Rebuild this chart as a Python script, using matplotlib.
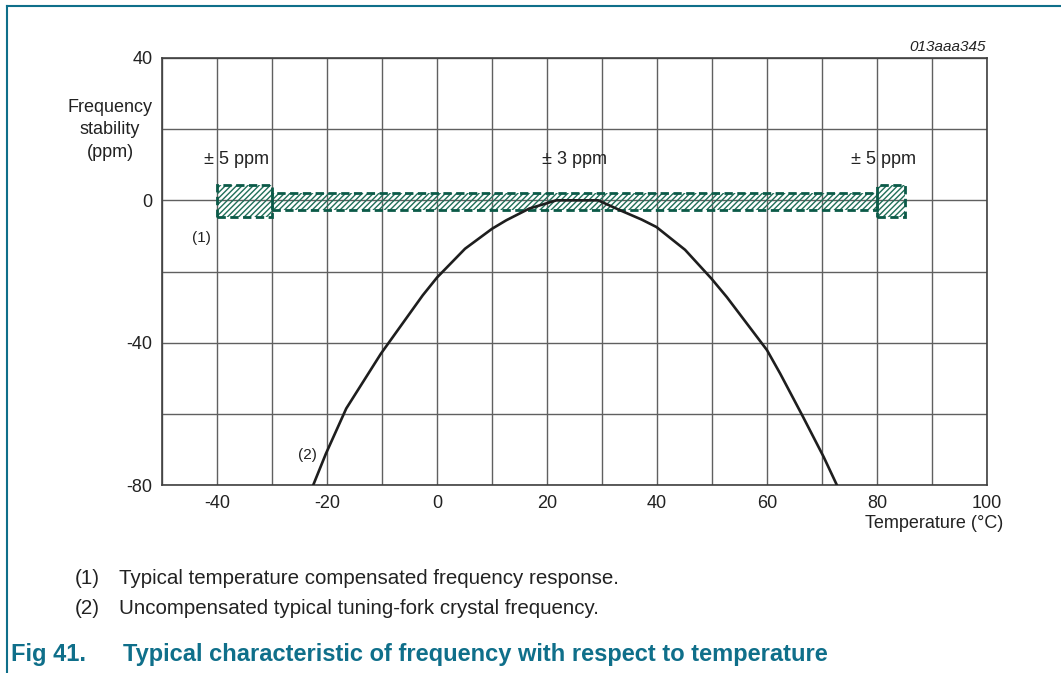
import matplotlib.pyplot as plt
from matplotlib.patches import Rectangle
from matplotlib.lines import Line2D

plt.rcParams['font.family'] = ['Liberation Sans', 'DejaVu Sans']
plt.rcParams['hatch.linewidth'] = 1.0
plt.rcParams['axes.unicode_minus'] = False

# --- Datos ------------------------------------------------------------------
temp = [-22.5, -20.2, -16.5, -10.2, -2.6, 0, 5.1, 10, 12.6, 16.8, 21.7,
        29.3, 33.3, 37.2, 39.9, 45.1, 49.9, 52.7, 60, 62.4, 66.4, 70.3, 72.7]
ppm = [-80, -71.2, -58.5, -43.1, -26.7, -21.7, -13.6, -8.0, -5.6, -2.3, 0,
       0, -2.8, -5.4, -7.5, -13.9, -22, -27.2, -42.1, -48.7, -60.4, -72.1, -80]

# bandas de tolerancia: (t_ini, t_fin, ppm_min, ppm_max)
band_left = (-40, -30, -4.8, 4.2)
band_mid = (-30, 80, -2.8, 2.2)
band_right = (80, 85, -4.8, 4.2)
band_labels = ['± 5 ppm', '± 3 ppm', '± 5 ppm']
band_label_x = [-36.5, 25, 81.2]

xticks = [-40, -20, 0, 20, 40, 60, 80, 100]
yticks = [-80, -40, 0, 40]

W, H = 1061, 673
teal = '#0f6f8a'
green_edge = '#0b5a48'
green_hatch = '#1f6e58'
txt = '#222222'

fig = plt.figure(figsize=(W / 100, H / 100), dpi=100)
ax = fig.add_axes([162 / W, 1 - 485 / H, (987 - 162) / W, (485 - 58) / H])

ax.set_xlim(-50, 100)
ax.set_ylim(-80, 40)
ax.set_xticks(range(-50, 101, 10), minor=True)
ax.set_yticks(range(-80, 41, 20), minor=True)
ax.set_xticks(xticks)
ax.set_yticks(yticks)
ax.tick_params(which='both', length=0, labelsize=13, colors=txt, pad=7)
ax.grid(True, which='both', color='#606060', lw=1.0)
ax.set_axisbelow(True)
for s in ax.spines.values():
    s.set_color('#404040')
    s.set_linewidth(1.2)

# bandas rayadas
for (x0, x1, y0, y1) in [band_left, band_mid, band_right]:
    ax.add_patch(Rectangle((x0, y0), x1 - x0, y1 - y0, facecolor='none',
                           edgecolor=green_hatch, hatch='//////', lw=0, zorder=2))
    ax.add_patch(Rectangle((x0, y0), x1 - x0, y1 - y0, facecolor='none',
                           edgecolor=green_edge, lw=2.0,
                           linestyle=(0, (3.0, 1.6)), zorder=3))

for lbl, xl in zip(band_labels, band_label_x):
    ax.text(xl, 11.5, lbl, ha='center', va='center', fontsize=13, color=txt)

ax.plot(temp, ppm, color='#1e1e1e', lw=1.9, zorder=4)

ax.text(-41.2, -10.5, '(1)', ha='right', va='center', fontsize=11, color=txt)
ax.text(-21.8, -71.6, '(2)', ha='right', va='center', fontsize=11, color=txt)

# --- Textos de la figura -----------------------------------------------------
def ft(x, y, s, **kw):
    fig.text(x / W, 1 - y / H, s, **kw)

ft(986, 47, '013aaa345', ha='right', va='center', fontsize=11,
   style='italic', color=txt)
ft(110, 130, 'Frequency\nstability\n(ppm)', ha='center', va='center',
   fontsize=13, color=txt, linespacing=1.45)
ft(1003, 523, 'Temperature (°C)', ha='right', va='center', fontsize=13, color=txt)

ft(75, 578, '(1)', ha='left', va='center', fontsize=14.8, color=txt)
ft(119, 578, 'Typical temperature compensated frequency response.',
   ha='left', va='center', fontsize=14.8, color=txt)
ft(75, 608, '(2)', ha='left', va='center', fontsize=14.8, color=txt)
ft(119, 608, 'Uncompensated typical tuning-fork crystal frequency.',
   ha='left', va='center', fontsize=14.8, color=txt)
ft(11, 655, 'Fig 41.', ha='left', va='center', fontsize=17,
   fontweight='bold', color=teal)
ft(123, 655, 'Typical characteristic of frequency with respect to temperature',
   ha='left', va='center', fontsize=17, fontweight='bold', color=teal)

# marco
fig.add_artist(Line2D([7 / W, 1], [1 - 6 / H, 1 - 6 / H], color=teal, lw=1.5))
fig.add_artist(Line2D([7 / W, 7 / W], [1 - 6 / H, 0], color=teal, lw=1.5))

fig.savefig('out.png', dpi=100)
